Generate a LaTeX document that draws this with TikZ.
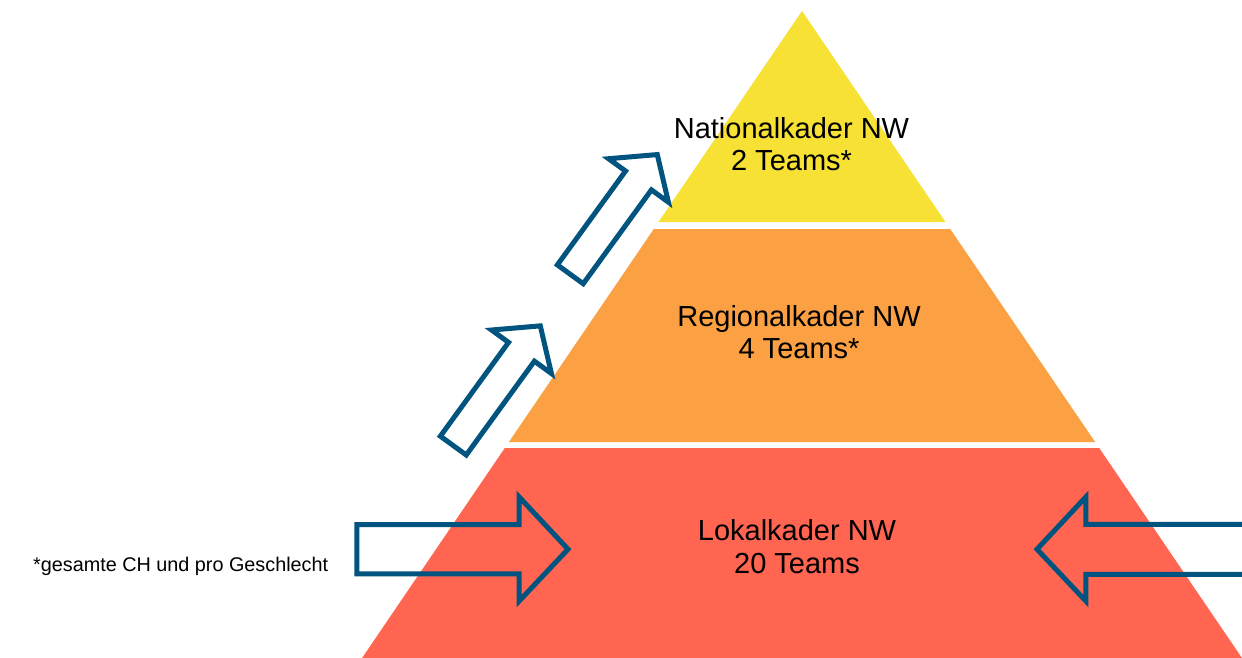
\documentclass[tikz,border=0pt]{standalone}
\usepackage{fontspec}
\setmainfont{Liberation Sans}
\definecolor{natyellow}{HTML}{F7E135}
\definecolor{regorange}{HTML}{FBA043}
\definecolor{lokred}{HTML}{FF6550}
\definecolor{arrowblue}{HTML}{00547F}
\tikzset{
  layer/.style={draw=none},
  blockarrow/.style={draw=arrowblue, line width=5pt, line join=miter, fill=none},
  label/.style={inner sep=0pt, anchor=base, font=\fontsize{29}{33}\selectfont, text=black},
  note/.style={inner sep=0pt, anchor=base west, font=\fontsize{19.8}{23}\selectfont, text=black}
}
\begin{document}
\begin{tikzpicture}[x=1pt,y=-1pt]
\useasboundingbox (0,0) rectangle (1242,657);
\clip (0,0) rectangle (1242,657);
\fill[white] (0,0) rectangle (1242,657);
% pyramid layers
\fill[layer, natyellow] (802,11) -- (945.5,222) -- (658.5,222) -- cycle;
\fill[layer, regorange] (653.8,229) -- (950.2,229) -- (1095.1,442) -- (508.9,442) -- cycle;
\fill[layer, lokred] (504.8,448) -- (1099.2,448) -- (1246.7,665) -- (357.3,665) -- cycle;
% horizontal block arrows
\draw[blockarrow] (356.8,524.5) -- (519.2,524.5) -- (519.2,497) -- (568,549.2) -- (519.2,601) -- (519.2,573.8) -- (356.8,573.8) -- cycle;
\draw[blockarrow] (1260,524.3) -- (1085.8,524.3) -- (1085.8,497) -- (1037,549.2) -- (1085.8,601) -- (1085.8,574.3) -- (1260,574.3);
% diagonal block arrows
\begin{scope}[shift={(570.3,274.3)}, x={(0.5877pt,0.809pt)}, y={(0.809pt,-0.5877pt)}]
\draw[blockarrow] (0,-16) -- (116,-16) -- (116,-37) -- (148,0) -- (116,37) -- (116,16) -- (0,16) -- cycle;
\end{scope}
\begin{scope}[shift={(453.3,445.6)}, x={(0.5877pt,0.809pt)}, y={(0.809pt,-0.5877pt)}]
\draw[blockarrow] (0,-16) -- (116,-16) -- (116,-37) -- (148,0) -- (116,37) -- (116,16) -- (0,16) -- cycle;
\end{scope}
% labels
\node[label] (nat1) at (791.5,138) {Nationalkader NW};
\node[label] (nat2) at (791.5,170) {2 Teams*};
\node[label] (reg1) at (799,326) {Regionalkader NW};
\node[label] (reg2) at (799,358) {4 Teams*};
\node[label] (lok1) at (797,540) {Lokalkader NW};
\node[label] (lok2) at (797,573) {20 Teams};
\node[note] (note) at (33,571) {*gesamte CH und pro Geschlecht};
\end{tikzpicture}
\end{document}
